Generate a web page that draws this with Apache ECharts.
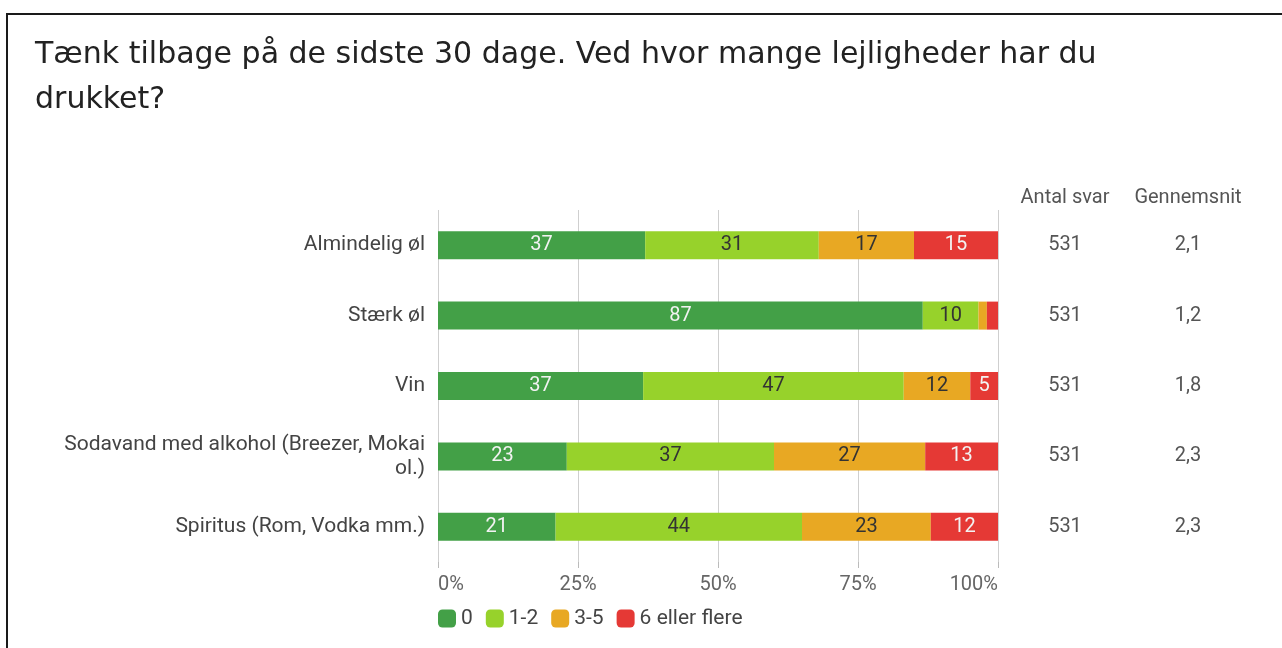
<!DOCTYPE html>
<html>
<head>
<meta charset="utf-8">
<script src="https://cdn.jsdelivr.net/npm/echarts@6/dist/echarts.min.js"></script>
<style>
  html, body { margin: 0; padding: 0; background: #fff; }
  #frame { position: absolute; left: 6px; top: 13px; width: 1276px; height: 635px;
           border-left: 2px solid #1a1a1a; border-top: 2px solid #1a1a1a; box-sizing: border-box; }
  #chart { position: absolute; left: 0; top: 0; width: 1282px; height: 648px; }
</style>
</head>
<body>
<div id="frame"></div>
<div id="chart"></div>
<script>
// data
const categories = ['Almindelig øl', 'Stærk øl', 'Vin', 'Sodavand med alkohol (Breezer, Mokai\nol.)', 'Spiritus (Rom, Vodka mm.)'];
const seriesNames = ['0', '1-2', '3-5', '6 eller flere'];
const values0 = [37, 87, 37, 23, 21];
const values12 = [31, 10, 47, 37, 44];
const values35 = [17, 1.5, 12, 27, 23];
const values6 = [15, 2, 5, 13, 12];
const antalSvar = ['531', '531', '531', '531', '531'];
const gennemsnit = ['2,1', '1,2', '1,8', '2,3', '2,3'];
const xTicks = [0, 25, 50, 75, 100];

const colors = ['#43a047', '#97d22b', '#e8a823', '#e53935'];
const labelColors = ['#f2f2f2', '#333333', '#333333', '#f2f2f2'];

const allValues = [values0, values12, values35, values6];
const rowTotals = categories.map((c, i) => allValues.reduce((s, arr) => s + arr[i], 0));

// echarts draws category axes bottom-up, so flip the rows
const rev = arr => arr.slice().reverse();

const myChart = echarts.init(document.getElementById('chart'));

const font = 'Roboto';
const fs = 20;

let option = {
  backgroundColor: 'transparent',
  textStyle: { fontFamily: font },
  title: {
    text: 'Tænk tilbage på de sidste 30 dage. Ved hvor mange lejligheder har du\ndrukket?',
    left: 30,
    top: 28,
    textStyle: { fontFamily: 'DejaVu Sans', fontSize: 30, fontWeight: 'normal', color: '#222', lineHeight: 45 }
  },
  legend: {
    data: seriesNames,
    left: 433,
    top: 603,
    icon: 'roundRect',
    itemWidth: 18,
    itemHeight: 18,
    itemGap: 13,
    textStyle: { fontFamily: font, fontSize: 21, color: '#444' }
  },
  grid: { left: 438, right: 284, top: 210, bottom: 86, containLabel: false, outerBoundsMode: 'none' },
  xAxis: {
    type: 'value',
    min: xTicks[0],
    max: xTicks[xTicks.length - 1],
    interval: xTicks[1] - xTicks[0],
    axisLine: { show: false },
    axisTick: { show: true, length: 6, lineStyle: { color: '#bbb' } },
    splitLine: { show: true, lineStyle: { color: '#cfcfcf', width: 1 } },
    axisLabel: {
      formatter: '{value}%', color: '#666', fontSize: 20, margin: 13, fontFamily: font,
      alignMinLabel: 'left', alignMaxLabel: 'right'
    }
  },
  yAxis: [
    {
      type: 'category',
      data: rev(categories),
      axisLine: { show: false },
      axisTick: { show: false },
      axisLabel: { color: '#444', fontSize: 21, margin: 13, lineHeight: 24, align: 'right', fontFamily: font }
    },
    {
      type: 'category',
      data: rev(antalSvar),
      position: 'right',
      offset: 67,
      name: 'Antal svar',
      nameLocation: 'end',
      nameGap: 2,
      nameTextStyle: { align: 'center', verticalAlign: 'bottom', color: '#555', fontSize: fs, fontFamily: font },
      axisLine: { show: false },
      axisTick: { show: false },
      axisLabel: { align: 'center', margin: 0, color: '#555', fontSize: fs, fontFamily: font }
    },
    {
      type: 'category',
      data: rev(gennemsnit),
      position: 'right',
      offset: 190,
      name: 'Gennemsnit',
      nameLocation: 'end',
      nameGap: 2,
      nameTextStyle: { align: 'center', verticalAlign: 'bottom', color: '#555', fontSize: fs, fontFamily: font },
      axisLine: { show: false },
      axisTick: { show: false },
      axisLabel: { align: 'center', margin: 0, color: '#555', fontSize: fs, fontFamily: font }
    }
  ],
  series: allValues.map((arr, k) => ({
    name: seriesNames[k],
    type: 'bar',
    stack: 'total',
    barWidth: 28,
    itemStyle: { color: colors[k] },
    label: {
      show: true,
      position: 'inside',
      color: labelColors[k],
      fontSize: fs,
      fontFamily: font,
      formatter: p => (p.data.raw >= 3 ? String(Math.round(p.data.raw)) : '')
    },
    data: rev(arr.map((v, i) => ({ value: v / rowTotals[i] * 100, raw: v })))
  }))
};

myChart.setOption(option);
</script>
</body>
</html>
